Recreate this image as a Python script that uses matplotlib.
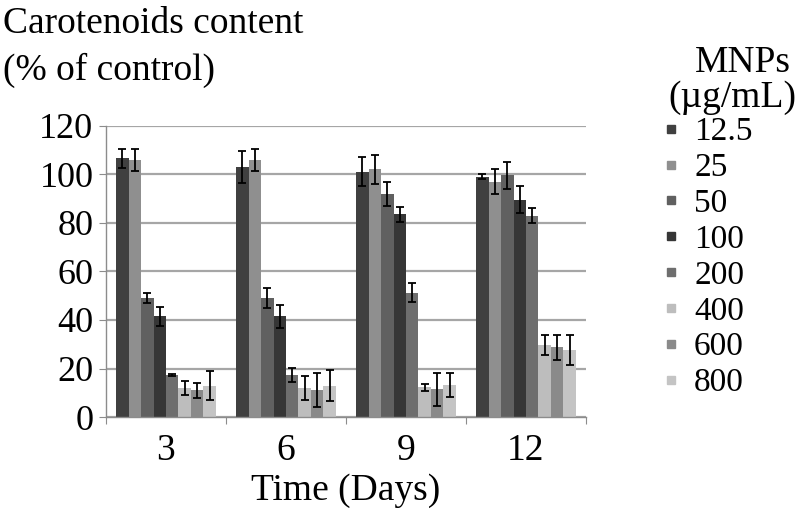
import matplotlib
matplotlib.use("Agg")
import matplotlib.pyplot as plt
from matplotlib.lines import Line2D
import numpy as np

days = ["3", "6", "9", "12"]
doses = ["12.5", "25", "50", "100", "200", "400", "600", "800"]
# values[dose][day]
values = {
    "12.5": [106.5, 103.0, 101.0, 99.0],
    "25":   [106.0, 106.0, 102.0, 97.0],
    "50":   [49.0, 49.0, 92.0, 99.5],
    "100":  [41.5, 41.5, 83.5, 89.5],
    "200":  [17.3, 17.3, 51.3, 83.0],
    "400":  [12.0, 12.0, 12.3, 29.6],
    "600":  [11.0, 11.0, 11.4, 28.7],
    "800":  [13.0, 13.0, 13.3, 27.6],
}
errors = {
    "12.5": [4.0, 6.5, 6.0, 1.0],
    "25":   [4.5, 4.5, 6.0, 5.0],
    "50":   [2.0, 4.0, 5.0, 5.5],
    "100":  [4.0, 4.7, 3.0, 5.6],
    "200":  [0.5, 3.0, 4.0, 2.9],
    "400":  [3.0, 4.8, 1.4, 4.0],
    "600":  [3.0, 7.0, 6.7, 5.0],
    "800":  [6.0, 6.5, 5.0, 6.0],
}
colors = ["#404040", "#8f8f8f", "#606060", "#363636",
          "#6e6e6e", "#bdbdbd", "#8a8a8a", "#c4c4c4"]

plt.rcParams['font.family'] = ['Liberation Serif', 'DejaVu Serif']
serif = ['Liberation Serif', 'DejaVu Serif']

fig = plt.figure(figsize=(8.0, 5.13), dpi=100)
ax = fig.add_axes([0.1325, 0.187, 0.600, 0.568])

x = np.arange(len(days)) + 0.5
w = 0.104
for j, d in enumerate(doses):
    off = (j - 3.5) * w
    ax.bar(x + off, values[d], width=w, color=colors[j], label=d, zorder=2)
    ax.errorbar(x + off, values[d], yerr=errors[d], fmt='none', ecolor='black',
                elinewidth=1.3, capsize=3, capthick=1.3, zorder=3)

ax.set_xlim(0, 4)
ax.set_ylim(0, 120)
ax.set_yticks(np.arange(0, 121, 20))
ax.yaxis.grid(True, color='#a6a6a6', linewidth=1.6, zorder=0)
ax.set_axisbelow(True)
for s in ['top', 'right']:
    ax.spines[s].set_visible(False)
for s in ['left', 'bottom']:
    ax.spines[s].set_color('#8c8c8c')
    ax.spines[s].set_linewidth(1.0)
ax.set_xticks(np.arange(0, 5))
ax.set_xticklabels([])
ax.set_xticks(x, minor=True)
ax.set_xticklabels(days, minor=True)
ax.tick_params(axis='x', which='minor', length=0, labelsize=27, pad=12)
ax.tick_params(axis='x', which='major', length=5, color='#8c8c8c', direction='out')
ax.tick_params(axis='y', length=5, color='#8c8c8c', labelsize=26, pad=4)
ax.set_xlabel("Time (Days)", fontsize=27, labelpad=4)

fig.text(0.004, 0.988, "Carotenoids content\n(% of control)", fontsize=27,
         ha='left', va='top', linespacing=1.45)
fig.text(0.928, 0.878, "MNPs", fontsize=27, ha='center', va='center')
fig.text(0.916, 0.810, "(µg/mL)", fontsize=27, ha='center', va='center')

handles = [Line2D([], [], linestyle='none', marker='s', markersize=6,
                  markerfacecolor=c, markeredgecolor=c) for c in colors]
leg = ax.legend(handles, doses, loc='upper left', bbox_to_anchor=(0.828, 0.772),
                bbox_transform=fig.transFigure, frameon=False,
                prop={'family': serif, 'size': 24},
                handlelength=0.5, handletextpad=0.45,
                labelspacing=0.16, borderaxespad=0, borderpad=0)

fig.savefig("out.png", dpi=100)
